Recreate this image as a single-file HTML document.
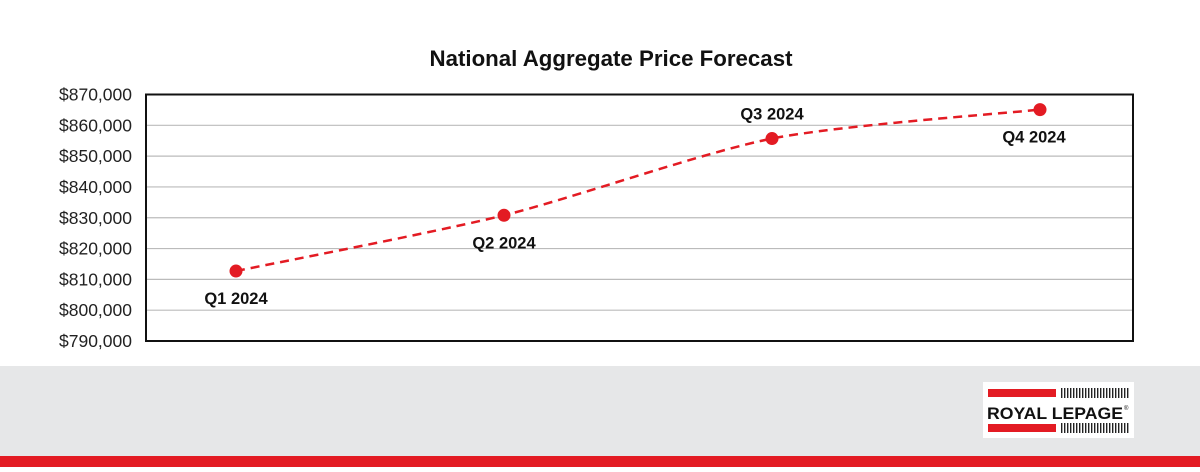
<!DOCTYPE html>
<html><head><meta charset="utf-8"><style>
body{margin:0;width:1200px;height:467px;overflow:hidden;background:#fff;font-family:"Liberation Sans",Arial,sans-serif}
</style></head><body>
<svg width="1200" height="467" viewBox="0 0 1200 467" id="chart">
<rect x="0" y="366" width="1200" height="90" fill="#e6e7e8"/>
<rect x="0" y="456" width="1200" height="11" fill="#e31b23"/>
<g>
<rect x="983" y="382" width="151" height="56" fill="#fff"/>
<rect x="988" y="389" width="68" height="8" fill="#e31b23"/>
<rect x="988" y="424" width="68" height="8" fill="#e31b23"/>
<g id="barcode"></g>
<text x="987" y="419" font-size="17" font-weight="bold" fill="#111" textLength="136" lengthAdjust="spacingAndGlyphs">ROYAL LEPAGE</text>
<text x="1124" y="410" font-size="6" fill="#111">®</text>
</g>
<text x="611" y="66" text-anchor="middle" font-size="22" font-weight="bold" fill="#111" textLength="363" lengthAdjust="spacingAndGlyphs">National Aggregate Price Forecast</text>
<g id="grid"></g>
<rect x="146" y="94.5" width="987" height="246.5" fill="none" stroke="#111" stroke-width="2"/>
<g id="marks"></g>
</svg>
<script>
const categories=["Q1 2024","Q2 2024","Q3 2024","Q4 2024"];
const values=[812700,830800,855700,865100];
const ticks=[790000,800000,810000,820000,830000,840000,850000,860000,870000];
const labelAbove=[false,false,true,false];
const NS="http://www.w3.org/2000/svg";
const y0=341,y1=94.5,vmin=790000,vmax=870000;
const yS=v=>y0-(v-vmin)/(vmax-vmin)*(y0-y1);
const xS=i=>236+i*268;
function mk(t,a,p){const e=document.createElementNS(NS,t);for(const k in a)e.setAttribute(k,a[k]);p.appendChild(e);return e;}
const bc=document.getElementById('barcode');
for(let i=0;i<23;i++){for(const yy of [388,423]){const r=mk('rect',{x:1061+i*3,y:yy,width:1.4,height:10,fill:'#222'},bc);}}
const g=document.getElementById('grid');
ticks.forEach(t=>{
 const y=yS(t);
 const l=mk('line',{x1:146,x2:1133,y1:y,y2:y,stroke:'#bbb','stroke-width':1.2},g);
 
 
 const tx=mk('text',{x:132,y:y+6,'text-anchor':'end','font-size':17.5,fill:'#222'},g);
 tx.textContent='$'+t.toLocaleString('en-US');
 
 
});
const m=document.getElementById('marks');
const P=values.map((v,i)=>[xS(i),yS(v)]);
let d='M'+P[0][0]+','+P[0][1];
const tns=0.25;
for(let i=0;i<P.length-1;i++){
 const p0=P[Math.max(0,i-1)],p1=P[i],p2=P[i+1],p3=P[Math.min(P.length-1,i+2)];
 const c1=[p1[0]+(p2[0]-p0[0])*tns/2,p1[1]+(p2[1]-p0[1])*tns/2];
 const c2=[p2[0]-(p3[0]-p1[0])*tns/2,p2[1]-(p3[1]-p1[1])*tns/2];
 d+=' C'+c1+' '+c2+' '+p2;
}
const line=mk('path',{d:d,fill:'none',stroke:'#e31b23','stroke-width':2.5,'stroke-dasharray':'9,6'},m);


P.forEach((p,i)=>{
 const c=mk('circle',{cx:p[0],cy:p[1],r:6.5,fill:'#e31b23'},m);
 
 
 const t=mk('text',{x:p[0]+(i==3?-6:0),y:labelAbove[i]?p[1]-19:p[1]+33,'text-anchor':'middle','font-size':16.5,'font-weight':'bold',fill:'#111'},m);
 t.textContent=categories[i];
 
 
});
</script>
</body></html>
